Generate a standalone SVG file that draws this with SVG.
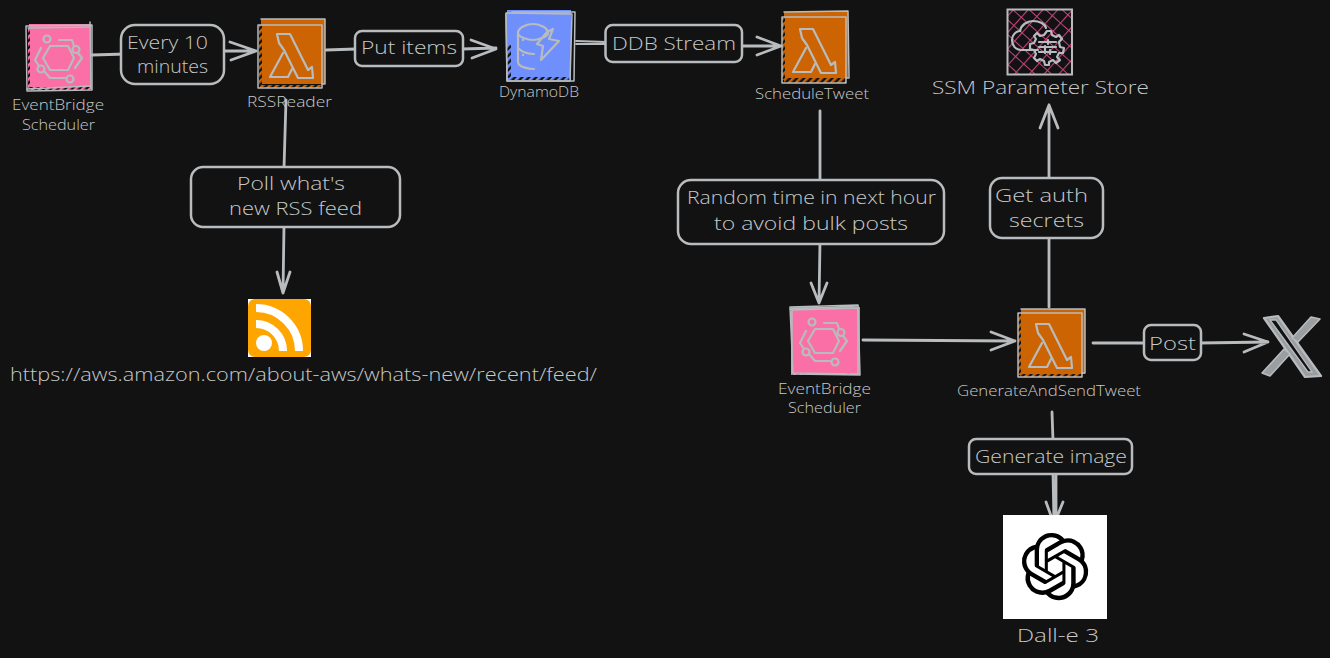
<svg xmlns="http://www.w3.org/2000/svg" width="1330" height="658" viewBox="0 0 1330 658">
<style>
.s{fill:none;stroke:#b8bcbe;stroke-width:2;stroke-linecap:round;stroke-linejoin:round}
.t{fill:none;stroke:#b8bcbe;stroke-width:1.5;stroke-linecap:round;stroke-linejoin:round}
.c{fill:none;stroke:#b8bcbe;stroke-width:2.8;stroke-linecap:round;stroke-linejoin:round}
.i{fill:none;stroke:#b8bcbe;stroke-width:2.2;stroke-linejoin:round;stroke-linecap:round}
.box{fill:#121212;stroke:#b8bcbe;stroke-width:2.5}
text{font-family:"Open Sans","Noto Sans",sans-serif;font-weight:300;fill:#c6c9ca}
.l{font-size:19px}.n{font-size:14.5px}.m{font-size:18px}
</style>
<defs>
<pattern id="ho" width="5" height="5" patternUnits="userSpaceOnUse" patternTransform="rotate(45)"><rect width="5" height="5" fill="#121212"/><rect width="2.6" height="5" fill="#cc6404"/></pattern>
<pattern id="hp" width="5" height="5" patternUnits="userSpaceOnUse" patternTransform="rotate(45)"><rect width="5" height="5" fill="#121212"/><rect width="2.6" height="5" fill="#f96fa6"/></pattern>
<pattern id="hb" width="5" height="5" patternUnits="userSpaceOnUse" patternTransform="rotate(45)"><rect width="5" height="5" fill="#121212"/><rect width="2.6" height="5" fill="#6f8ffc"/></pattern>
<pattern id="hs" width="11" height="11" patternUnits="userSpaceOnUse" patternTransform="rotate(42)"><path d="M0 0H11M0 0V11" stroke="#c2447b" stroke-width="2.2" fill="none"/></pattern>
<g id="lam"><path class="i" d="M-15-19L-2-19L16 17L20 14L21 25L6 25L-8-3L-13-10Z"/><path class="i" d="M-9 0L-22 24L-4 24L0 16"/></g>
<g id="evb"><path class="i" d="M-15 0L-8-12L10-12L16 0L10 12L-8 12Z"/><circle class="i" cx="-11" cy="-19" r="3.5"/><circle class="i" cx="18" cy="-8.5" r="3.5"/><circle class="i" cx="-17" cy="11" r="3.5"/><circle class="i" cx="12" cy="21" r="3.5"/><path class="i" d="M1-18L14-18L16-12M20-5L24 0L17 10M-17-10L-23 2L-19 8M-14 13L-8 20L7 20"/></g>
</defs>
<rect width="1330" height="658" fill="#121212"/>

<g id="connectors">
<path class="c" d="M92 55L126 54"/>
<path class="c" d="M222 51L256 51M230 42L256 51L231 60"/>
<path class="c" d="M326 50L356 49"/>
<path class="c" d="M462 49L496 48M471 40L496 49L472 58"/>
<path class="c" d="M576 41L606 42M576 44L606 44" style="stroke-width:1.8"/>
<path class="c" d="M741 46L781 46M757 37L781 46L757 55"/>
<path class="c" d="M286 100L284 168"/>
<path class="c" d="M284 226L283 293M277 272L283 293L290 272"/>
<path class="c" d="M820 111L820 182"/>
<path class="c" d="M820 242L819 303M811 283L819 303L827 283"/>
<path class="c" d="M1049 307L1049 236"/>
<path class="c" d="M1049 180L1049 105M1040 128L1049 105L1058 128"/>
<path class="c" d="M863 340L1015 341M991 332L1015 341L991 350"/>
<path class="c" d="M1093 343L1146 343"/>
<path class="c" d="M1200 343L1268 342M1244 334L1268 342L1244 352"/>
<path class="c" d="M1052 412L1053 441"/>
<path class="c" d="M1053 472L1054 524M1056 472L1056 524M1046 502L1054 524L1063 502"/>
</g>

<g id="eventbridge-1">
<rect x="29" y="24" width="62" height="65" fill="#f96fa6"/>
<rect x="28" y="28" width="2" height="60" fill="url(#hp)"/><rect x="30" y="87" width="60" height="3" fill="url(#hp)"/>
<path class="t" d="M26 26L92 25L92 90L27 91Z"/><path class="t" d="M28 28L91 27M90 22L91 89M27 89L90 86"/>
<use href="#evb" x="58" y="58"/>
</g>
<g id="rssreader">
<rect x="261" y="19" width="64" height="65" fill="#cc6404"/>
<rect x="259" y="25" width="3" height="60" fill="url(#ho)"/><rect x="260" y="85" width="62" height="3" fill="url(#ho)"/>
<path class="t" d="M261 19L325 19L325 84L322 84"/><path class="t" d="M258 25L322 25L322 88L258 88Z"/>
<use href="#lam" x="292" y="53"/>
</g>
<g id="dynamodb">
<rect x="507" y="10" width="64" height="70" fill="#6f8ffc"/>
<rect x="507" y="45" width="4" height="33" fill="url(#hb)"/><rect x="510" y="77" width="60" height="3" fill="url(#hb)"/>
<path class="t" d="M506 13L572 14L570 81L507 81Z"/><path class="t" d="M506 14L507 81L574 81L575 12L512 12"/>
<path class="i" d="M518 33V62C518 67 529 69 534 69M518 33C518 27 528 24 533 24C538 24 548 27 548 33C548 37 537 40 533 40C528 40 518 37 518 33ZM518 48C522 52 529 54 534 54"/>
<path class="i" d="M547 32L553 29L549 39L559 41L541 60L543 46L537 44Z"/>
<circle cx="523" cy="40" r="1.2" fill="#b8bcbe"/><circle cx="523" cy="55" r="1.2" fill="#b8bcbe"/>
</g>
<g id="scheduletweet">
<rect x="784" y="12" width="64" height="66" fill="#cc6404"/>
<rect x="782" y="18" width="3" height="62" fill="url(#ho)"/><rect x="784" y="78" width="62" height="5" fill="url(#ho)"/>
<path class="t" d="M784 12L848 11L849 78L846 78"/><path class="t" d="M782 17L846 17L846 83L782 83Z"/>
<use href="#lam" x="815" y="48"/>
</g>
<g id="ssm">
<rect x="1007.500" y="9.500" width="64.500" height="65" fill="url(#hs)"/>
<rect x="1007.500" y="9.500" width="64.500" height="65" fill="none" stroke="#b8bcbe" stroke-width="2"/>
<path class="i" d="M1038 50H1022C1015 50 1012 45 1012 40C1012 35 1016 31 1020 31C1021 25 1027 21 1033 21C1040 21 1045 24 1046 28"/>
<path class="i" d="M1047 31L1051 31L1052 35L1056 37L1059 35L1062 39L1059 42L1060 47L1064 48L1063 53L1059 53L1057 57L1060 60L1056 63L1053 60L1049 62L1049 65L1045 65L1044 61L1040 59L1037 61L1034 58L1036 54L1034 50L1030 49L1030 44L1034 43L1036 39L1034 36L1037 33L1040 36L1044 35Z"/>
<path class="i" d="M1039 42H1056M1039 47H1056M1039 52H1056M1048 40V44M1045 46V53M1050 50V54"/>
</g>
<g id="eventbridge-2">
<rect x="791" y="307" width="69" height="68" fill="#f96fa6"/>
<rect x="792" y="373" width="60" height="2" fill="url(#hp)"/>
<path class="t" d="M790 307L858 305L860 375L793 374Z"/><path class="t" d="M792 310L858 308L858 374L792 373Z"/><path class="t" d="M790 309L858 306"/>
<use href="#evb" x="823" y="341"/>
</g>
<g id="generateandsendtweet">
<rect x="1021" y="309" width="64" height="65" fill="#cc6404"/>
<rect x="1018" y="314" width="3" height="61" fill="url(#ho)"/><rect x="1020" y="374" width="62" height="3" fill="url(#ho)"/>
<path class="t" d="M1021 309L1085 309L1085 373L1082 373"/><path class="t" d="M1018 313L1082 313L1082 377L1018 377Z"/>
<use href="#lam" x="1051" y="343"/>
</g>
<g id="x-logo">
<path d="M1264 318L1278 316L1321 376L1305 377Z" fill="#9a9ea0" stroke="#b8bcbe" stroke-width="2.2" stroke-linejoin="round"/>
<path d="M1270 320L1276 320L1312 372L1308 372Z" fill="#121212" stroke="#b8bcbe" stroke-width="1.3"/>
<path d="M1311 317L1320 319L1298 342L1292 338Z" fill="#9a9ea0" stroke="#b8bcbe" stroke-width="1.5" stroke-linejoin="round"/>
<path d="M1284 349L1290 354L1270 376L1262 373Z" fill="#9a9ea0" stroke="#b8bcbe" stroke-width="1.5" stroke-linejoin="round"/>
</g>
<g id="rss-feed">
<rect x="248" y="299" width="63" height="58" fill="#ffffff"/>
<rect x="248" y="299" width="63" height="58" rx="7" fill="#ffa500"/>
<circle cx="264" cy="343" r="8" fill="#fff"/>
<path d="M256 308A43 43 0 0 1 299 351M256 324A27 27 0 0 1 283 351" fill="none" stroke="#fff" stroke-width="8"/>
</g>
<g id="dalle">
<rect x="1003" y="515" width="104" height="104" fill="#ffffff"/>
<path transform="translate(1021.500 533) scale(2.8)" fill="#000" d="M22.2819 9.8211a5.9847 5.9847 0 0 0-.5157-4.9108 6.0462 6.0462 0 0 0-6.5098-2.9A6.0651 6.0651 0 0 0 4.9807 4.1818a5.9847 5.9847 0 0 0-3.9977 2.9 6.0462 6.0462 0 0 0 .7427 7.0966 5.98 5.98 0 0 0 .511 4.9107 6.051 6.051 0 0 0 6.5146 2.9001A5.9847 5.9847 0 0 0 13.2599 24a6.0557 6.0557 0 0 0 5.7718-4.2058 5.9894 5.9894 0 0 0 3.9977-2.9001 6.0557 6.0557 0 0 0-.7475-7.0729zm-9.022 12.6081a4.4755 4.4755 0 0 1-2.8764-1.0408l.1419-.0804 4.7783-2.7582a.7948.7948 0 0 0 .3927-.6813v-6.7369l2.02 1.1686a.071.071 0 0 1 .038.052v5.5826a4.504 4.504 0 0 1-4.4945 4.4944zm-9.6607-4.1254a4.4708 4.4708 0 0 1-.5346-3.0137l.142.0852 4.783 2.7582a.7712.7712 0 0 0 .7806 0l5.8428-3.3685v2.3324a.0804.0804 0 0 1-.0332.0615L9.74 19.9502a4.4992 4.4992 0 0 1-6.1408-1.6464zM2.3408 7.8956a4.485 4.485 0 0 1 2.3655-1.9728V11.6a.7664.7664 0 0 0 .3879.6765l5.8144 3.3543-2.0201 1.1685a.0757.0757 0 0 1-.071 0l-4.8303-2.7865A4.504 4.504 0 0 1 2.3408 7.872zm16.5963 3.8558L13.1038 8.364 15.1192 7.2a.0757.0757 0 0 1 .071 0l4.8303 2.7913a4.4944 4.4944 0 0 1-.6765 8.1042v-5.6772a.79.79 0 0 0-.407-.667zm2.0107-3.0231l-.142-.0852-4.7735-2.7818a.7759.7759 0 0 0-.7854 0L9.409 9.2297V6.8974a.0662.0662 0 0 1 .0284-.0615l4.8303-2.7866a4.4992 4.4992 0 0 1 6.6802 4.66zM8.3065 12.863l-2.02-1.1638a.0804.0804 0 0 1-.038-.0567V6.0742a4.4992 4.4992 0 0 1 7.3757-3.4537l-.142.0805L8.704 5.459a.7948.7948 0 0 0-.3927.6813zm1.0976-2.3654l2.602-1.4998 2.6069 1.4998v2.9994l-2.5974 1.4997-2.6067-1.4997Z"/>
</g>

<g id="label-every"><rect class="box" x="121" y="25" width="103" height="59" rx="14"/><text class="l" x="127" y="49" textLength="81" lengthAdjust="spacingAndGlyphs">Every 10</text><text class="l" x="137" y="73" textLength="71" lengthAdjust="spacingAndGlyphs">minutes</text></g>
<g id="label-put"><rect class="box" x="355" y="31" width="108" height="35" rx="7"/><text class="l" x="361" y="54" textLength="96" lengthAdjust="spacingAndGlyphs">Put items</text></g>
<g id="label-ddb"><rect class="box" x="605.500" y="25" width="136.500" height="37" rx="7"/><text class="l" x="612" y="50" textLength="124" lengthAdjust="spacingAndGlyphs">DDB Stream</text></g>
<g id="label-poll"><rect class="box" x="191" y="167" width="209" height="60" rx="12"/><text class="l" x="237" y="190" textLength="108" lengthAdjust="spacingAndGlyphs">Poll what's</text><text class="l" x="229" y="215" textLength="133" lengthAdjust="spacingAndGlyphs">new RSS feed</text></g>
<g id="label-random"><rect class="box" x="678" y="180" width="266" height="64" rx="13"/><text class="l" x="687" y="204" textLength="249" lengthAdjust="spacingAndGlyphs">Random time in next hour</text><text class="l" x="714" y="230" textLength="194" lengthAdjust="spacingAndGlyphs">to avoid bulk posts</text></g>
<g id="label-auth"><rect class="box" x="990" y="178" width="113" height="60" rx="12"/><text class="l" x="995" y="202" textLength="93" lengthAdjust="spacingAndGlyphs">Get auth</text><text class="l" x="1009" y="227" textLength="75" lengthAdjust="spacingAndGlyphs">secrets</text></g>
<g id="label-post"><rect class="box" x="1144" y="325" width="57" height="35" rx="7"/><text class="l" x="1149" y="350" textLength="47" lengthAdjust="spacingAndGlyphs">Post</text></g>
<g id="label-generate"><rect class="box" x="969" y="439" width="163" height="35" rx="7"/><text class="l" x="975" y="463" textLength="152" lengthAdjust="spacingAndGlyphs">Generate image</text></g>

<g id="captions">
<text class="n" x="12" y="110" textLength="92" lengthAdjust="spacingAndGlyphs">EventBridge</text>
<text class="n" x="22" y="130" textLength="73" lengthAdjust="spacingAndGlyphs">Scheduler</text>
<text class="n" x="247" y="107" textLength="85" lengthAdjust="spacingAndGlyphs">RSSReader</text>
<text class="n" x="499" y="97" textLength="80" lengthAdjust="spacingAndGlyphs">DynamoDB</text>
<text class="n" x="755" y="99" textLength="114" lengthAdjust="spacingAndGlyphs">ScheduleTweet</text>
<text class="m" x="932" y="94" textLength="217" lengthAdjust="spacingAndGlyphs">SSM Parameter Store</text>
<text class="n" x="778" y="394" textLength="93" lengthAdjust="spacingAndGlyphs">EventBridge</text>
<text class="n" x="788" y="413" textLength="73" lengthAdjust="spacingAndGlyphs">Scheduler</text>
<text class="n" x="957" y="396" textLength="184" lengthAdjust="spacingAndGlyphs">GenerateAndSendTweet</text>
<text class="m" x="1017" y="642" textLength="82" lengthAdjust="spacingAndGlyphs">Dall-e 3</text>
<text class="m" x="10" y="381" textLength="587" lengthAdjust="spacingAndGlyphs">https://aws.amazon.com/about-aws/whats-new/recent/feed/</text>
</g>
</svg>
